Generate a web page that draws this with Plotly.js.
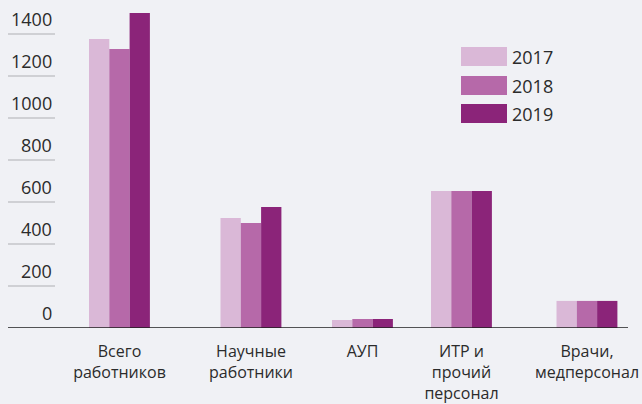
<!DOCTYPE html>
<html>
<head>
<meta charset="utf-8">
<script src="https://cdn.plot.ly/plotly-3.0.1.min.js"></script>
<style>html,body{margin:0;padding:0;background:#f0f1f5;}#chart{width:642px;height:404px;}</style>
</head>
<body>
<div id="chart"></div>
<script>
// Data
const categories = ["Всего<br>работников", "Научные<br>работники", "АУП", "ИТР и<br>прочий<br>персонал", "Врачи,<br>медперсонал"];
const years = ["2017", "2018", "2019"];
const values2017 = [1376, 524, 38, 652, 129];
const values2018 = [1329, 500, 43, 652, 129];
const values2019 = [1500, 576, 43, 652, 129];
const yTicks = [0, 200, 400, 600, 800, 1000, 1200, 1400];

// Layout helpers (positions / styles)
const groupCenters = [111.5, 243, 354.5, 453.5, 579];
const colors = ["#dab8d7", "#b669a9", "#8b2479"];
const barW = 20.3;
const offsets = [-30.5, -10.2, 10.1];
const series = [values2017, values2018, values2019];

const traces = series.map((vals, i) => ({
  type: "bar",
  x: groupCenters,
  y: vals,
  width: barW,
  offset: offsets[i],
  marker: {color: colors[i], line: {width: 0}},
  name: years[i],
  hoverinfo: "y+name"
}));

const plotTopPx = 0, plotBottomPx = 328, plotLeftPx = 8, plotW = 620;
const pxToPaperX = px => (px - plotLeftPx) / plotW;
const pxToPaperY = py => (plotBottomPx - py) / (plotBottomPx - plotTopPx);

const shapes = [];
const annotations = [];
yTicks.forEach(v => {
  if (v > 0) {
    shapes.push({type: "line", xref: "paper", yref: "y", x0: 0, x1: pxToPaperX(55), y0: v, y1: v,
      line: {color: "#c4c4c8", width: 1.5}});
  }
  annotations.push({xref: "paper", yref: "y", x: pxToPaperX(54), y: v, text: String(v),
    showarrow: false, xanchor: "right", yanchor: "bottom", yshift: 1,
    font: {family: "Open Sans, sans-serif", size: 18, color: "#2b2b2b"}});
});
// baseline
shapes.push({type: "line", xref: "paper", yref: "y", x0: 0, x1: 1, y0: 0, y1: 0,
  line: {color: "#1e1e1e", width: 1.6}});

// custom legend
const legTops = [47, 76, 104];
years.forEach((yr, i) => {
  shapes.push({type: "rect", xref: "paper", yref: "paper",
    x0: pxToPaperX(461), x1: pxToPaperX(507), y0: pxToPaperY(legTops[i] + 19), y1: pxToPaperY(legTops[i]),
    fillcolor: colors[i], line: {width: 0}});
  annotations.push({xref: "paper", yref: "paper", x: pxToPaperX(510), y: pxToPaperY(legTops[i] + 10),
    text: yr, showarrow: false, xanchor: "left", yanchor: "middle",
    font: {family: "Open Sans, sans-serif", size: 18, color: "#2b2b2b"}});
});

const layout = {
  width: 642, height: 404,
  margin: {l: plotLeftPx, r: 642 - plotLeftPx - plotW, t: plotTopPx, b: 404 - plotBottomPx},
  paper_bgcolor: "#f0f1f5",
  plot_bgcolor: "#f0f1f5",
  showlegend: false,
  barmode: "overlay",
  xaxis: {
    range: [0, plotW], showgrid: false, zeroline: false, showline: false,
    tickvals: groupCenters, ticktext: categories, ticks: "", ticklabelstandoff: 12,
    tickfont: {family: "Open Sans, sans-serif", size: 16, color: "#2b2b2b"}, fixedrange: true
  },
  yaxis: {
    range: [0, 1562], showgrid: false, zeroline: false, showline: false,
    showticklabels: false, ticks: "", fixedrange: true
  },
  shapes: shapes,
  annotations: annotations
};

Plotly.newPlot("chart", traces, layout, {displayModeBar: false, staticPlot: true});
</script>
</body>
</html>
